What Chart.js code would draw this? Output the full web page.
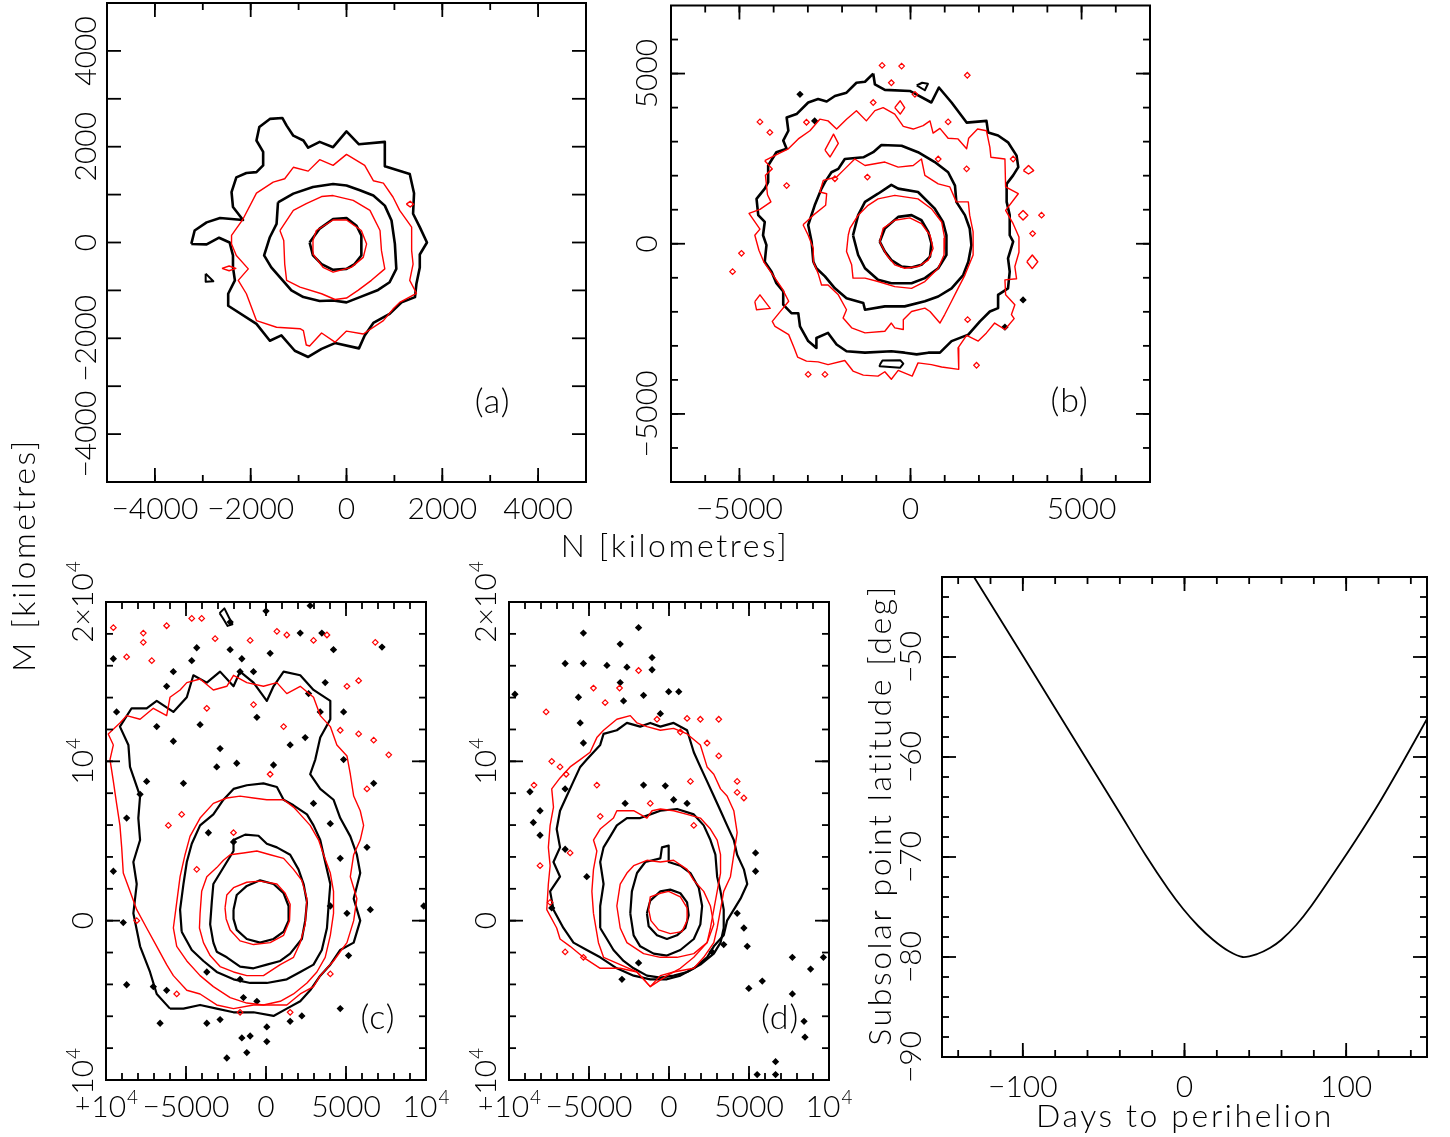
<!DOCTYPE html>
<html>
<head>
<meta charset="utf-8">
<script src="https://cdn.jsdelivr.net/npm/chart.js@4.4.0/dist/chart.umd.min.js"></script>
<style>
  body { margin: 0; background: #fff; }
  #page { position: relative; width: 1450px; height: 1137px; }
  canvas { position: absolute; left: 0; top: 0; }
</style>
</head>
<body>
<div id="page">
  <canvas id="pa" width="1450" height="1137"></canvas>
  <canvas id="pb" width="1450" height="1137"></canvas>
  <canvas id="pc" width="1450" height="1137"></canvas>
  <canvas id="pd" width="1450" height="1137"></canvas>
  <canvas id="pe" width="1450" height="1137"></canvas>
</div>
<script>
// ---- panel (a) contours, km ----
var aBlackOuter = [[-3240,-30],[-3170,250],[-2920,420],[-2640,510],[-2160,470],[-2370,740],[-2400,1050],[-2300,1360],[-2090,1450],[-1880,1470],[-1740,1610],[-1740,1890],[-1880,2130],[-1820,2410],[-1600,2580],[-1340,2600],[-1250,2440],[-1110,2230],[-900,2130],[-800,1980],[-560,2100],[-280,1990],[0,2320],[260,2050],[800,2100],[800,1590],[1320,1430],[1410,1030],[1390,600],[1530,320],[1680,0],[1530,-250],[1530,-520],[1460,-860],[1430,-1140],[1150,-1250],[900,-1490],[560,-1680],[380,-1940],[260,-2210],[-240,-2100],[-520,-2220],[-800,-2390],[-1080,-2260],[-1360,-1940],[-1600,-2050],[-1880,-1700],[-2470,-1320],[-2470,-1070],[-2330,-790],[-2370,-520],[-2370,-270],[-2440,0],[-2660,100],[-2920,-40]];
var aBlackTri = [[-2940,-650],[-2780,-810],[-2940,-820]];
var aBlackMid = [[-1430,840],[-1110,1020],[-700,1160],[-280,1220],[0,1190],[280,1090],[560,980],[800,770],[940,460],[1010,-30],[1040,-550],[900,-830],[660,-990],[280,-1140],[0,-1250],[-280,-1210],[-560,-1220],[-900,-1140],[-1150,-1000],[-1360,-760],[-1570,-520],[-1720,-270],[-1600,110],[-1460,390]];
var aBlackIn = [[-770,0],[-560,290],[-280,490],[0,510],[210,350],[310,150],[310,-270],[170,-450],[0,-550],[-280,-570],[-520,-450],[-700,-270]];
var aRedOuter = [[-2160,490],[-1880,1030],[-1530,1260],[-1290,1330],[-1110,1570],[-800,1490],[-560,1730],[-280,1610],[0,1840],[380,1610],[560,1290],[770,1240],[970,950],[1110,670],[1360,320],[1360,-170],[1390,-450],[1320,-790],[1460,-1060],[1110,-1250],[970,-1390],[770,-1630],[350,-1910],[0,-1850],[-240,-2080],[-520,-1890],[-770,-2160],[-840,-2140],[-900,-1840],[-970,-1800],[-1460,-1770],[-1880,-1630],[-2090,-1070],[-2260,-790],[-2050,-550],[-2300,-270],[-2400,-30],[-2400,150]];
var aRedSpeck1 = [[-2600,-540],[-2450,-490],[-2310,-540],[-2450,-590]];
var aRedSpeck2 = [[1250,800],[1330,860],[1400,800],[1330,740]];
var aRedMid = [[-1390,250],[-1110,670],[-840,810],[-520,960],[-280,980],[140,880],[490,670],[700,250],[730,-170],[800,-550],[520,-790],[240,-1000],[0,-1160],[-240,-1190],[-520,-1070],[-970,-930],[-1250,-790],[-1290,-450],[-1310,40]];
var aRedIn = [[-700,40],[-630,250],[-280,470],[0,470],[310,250],[420,-30],[350,-310],[100,-520],[-280,-620],[-490,-520],[-700,-240]];

// ---- panel (b) ----
var bBlackOuter = [[-1090,5000],[-1040,4680],[-750,4520],[-20,4490],[610,4150],[830,4590],[1200,4150],[1640,3560],[2220,3610],[2270,3270],[2560,3180],[2850,2980],[3100,2590],[3150,2250],[3000,2010],[2810,1760],[2810,1230],[2900,840],[2900,250],[3000,60],[2850,-430],[2900,-820],[2850,-1310],[2560,-1500],[2560,-1890],[2320,-1990],[2030,-2280],[1690,-2670],[1200,-2860],[860,-3200],[520,-3200],[180,-3250],[-170,-3200],[-560,-3160],[-1330,-3200],[-1870,-3160],[-2160,-2960],[-2410,-2620],[-2750,-2770],[-2750,-3060],[-2990,-2860],[-3230,-2430],[-3280,-2040],[-3480,-2040],[-3720,-1790],[-3720,-1400],[-3920,-1160],[-4060,-820],[-4260,-530],[-4210,-40],[-4310,250],[-4260,640],[-4450,840],[-4500,1320],[-4260,1620],[-4160,1810],[-4160,2300],[-3920,2690],[-3620,2790],[-3720,3030],[-3570,3320],[-3620,3710],[-3330,3810],[-2990,4150],[-2700,4250],[-2450,4180],[-2210,4340],[-1870,4440],[-1580,4730],[-1330,4760]];
var bBlackMid = [[-2840,-530],[-2890,60],[-2990,550],[-2800,1130],[-2600,1620],[-2500,1810],[-2310,2100],[-2110,2200],[-1920,2490],[-1380,2540],[-1090,2690],[-850,2900],[-260,2880],[220,2690],[710,2400],[1100,2100],[1300,1710],[1340,1230],[1590,840],[1730,450],[1780,-40],[1690,-530],[1540,-920],[1200,-1310],[810,-1550],[420,-1690],[-170,-1840],[-750,-1840],[-1330,-1940],[-1380,-1740],[-1870,-1600],[-2210,-1310],[-2500,-960],[-2750,-720]];
var bBlackRing2 = [[-1680,250],[-1530,840],[-1330,1230],[-950,1470],[-560,1730],[-360,1620],[220,1520],[710,1030],[950,640],[1050,250],[1050,-330],[810,-720],[420,-1010],[30,-1160],[-560,-1160],[-950,-1060],[-1330,-720],[-1530,-330]];
var bBlackIn = [[-900,60],[-750,450],[-360,790],[30,840],[320,690],[520,350],[610,10],[570,-380],[320,-620],[30,-700],[-260,-670],[-560,-480],[-750,-230]];
var bBlackTop = [[180,4650],[340,4730],[510,4700],[420,4510]];
var bBlackBottom = [[-900,-3560],[-820,-3430],[-300,-3420],[-210,-3520],[-300,-3640],[-900,-3600]];
var bBlackDots = [[-3230,4390],[-2800,3610],[3290,-1650],[2760,-2450]];
var bRedOuter = [[-4260,2440],[-3870,2640],[-3570,2790],[-3280,3080],[-2940,3320],[-2650,3660],[-2410,3610],[-2160,3370],[-1870,3660],[-1580,3910],[-1290,3610],[-1040,3910],[-800,4000],[-460,3810],[-210,3450],[80,3370],[370,3470],[570,3610],[660,3250],[860,3390],[1100,3100],[1390,3080],[1640,2790],[1700,3100],[1960,3370],[2220,3320],[2320,2830],[2350,2540],[2760,2490],[2780,1670],[3150,1470],[2780,980],[3000,590],[3170,200],[3170,-250],[3050,-670],[3100,-1030],[2760,-1060],[2780,-1500],[3050,-1790],[2950,-2080],[3030,-2200],[2760,-2520],[2460,-2330],[2220,-2620],[1980,-2860],[1640,-2690],[1390,-3060],[1410,-3690],[910,-3620],[610,-3550],[220,-3500],[50,-3890],[-360,-3720],[-560,-3980],[-750,-3760],[-950,-3890],[-1380,-3860],[-1680,-3740],[-1920,-3430],[-2410,-3550],[-2700,-3470],[-3040,-3450],[-3300,-3330],[-3400,-3060],[-3560,-2670],[-3960,-2430],[-4040,-2280],[-3820,-2010],[-3560,-1690],[-3750,-1320],[-3960,-1010],[-4280,-550],[-4430,-190],[-4550,250],[-4400,430],[-4720,890],[-4400,1010],[-4080,1230],[-4180,1440],[-4240,2010],[-4040,2200]];
var bRedMid = [[-3140,560],[-2840,840],[-2480,1130],[-2450,1470],[-2650,1520],[-2550,1860],[-2160,1960],[-1920,2200],[-1630,2490],[-1330,2300],[-750,2400],[-360,2250],[80,2300],[320,2490],[420,2010],[810,1760],[1150,1670],[1340,1230],[1690,1230],[1730,840],[1830,350],[1830,-330],[1590,-920],[1390,-1310],[1200,-1690],[1000,-2080],[860,-2330],[570,-1990],[420,-1890],[30,-1990],[-210,-2230],[-210,-2520],[-460,-2470],[-560,-2330],[-750,-2570],[-1330,-2620],[-1720,-2470],[-1970,-2180],[-1870,-1940],[-2110,-1500],[-2410,-1210],[-2600,-1210],[-2700,-870],[-2840,-530],[-2840,-140],[-2990,250]];
var bRedRing2 = [[-1820,250],[-1770,450],[-1530,840],[-1240,1130],[-950,1320],[-460,1420],[220,1320],[610,1030],[910,640],[1000,160],[980,-330],[810,-720],[420,-1110],[30,-1310],[-460,-1260],[-950,-1110],[-1330,-1010],[-1680,-1010],[-1720,-620],[-1870,-230]];
var bRedIn = [[-900,60],[-800,450],[-460,690],[-20,760],[320,590],[570,250],[660,-140],[520,-480],[220,-670],[-170,-720],[-460,-620],[-700,-330]];
var bRedLoop1 = [[-2500,2750],[-2250,3220],[-2110,2950],[-2350,2550]];
var bRedLoop2 = [[-460,4000],[-300,4200],[-170,4000],[-300,3810]];
var bRedLoop3 = [[-4550,-1700],[-4400,-1500],[-4100,-1900],[-4500,-1940]];
var bRedLoop4 = [[3400,-530],[3560,-330],[3720,-530],[3560,-730]];
var bRedLoop5 = [[3300,2150],[3450,2300],[3600,2150],[3450,2050]];
var bRedLoop6 = [[3150,840],[3290,980],[3430,840],[3290,700]];
var bRedDots = [[-4400,3580],[-4110,3270],[-4940,-280],[-5200,-820],[-3620,1710],[-3040,3570],[-1090,4150],[-560,4730],[-260,5220],[-830,5240],[130,4390],[1100,3580],[1660,4950],[810,2490],[1640,2200],[-1260,1960],[-2210,1910],[3830,840],[3570,300],[1930,-3570],[-2990,-3840],[-2500,-3840],[1670,-2230],[3000,2490]];

// ---- panel (c) ----
var cBlackIn = [[-2030,690],[-1830,1610],[-1200,2180],[-370,2530],[470,2300],[1100,1720],[1410,920],[1410,0],[1100,-690],[470,-1150],[-370,-1380],[-1200,-1150],[-1830,-580],[-2030,110]];
var cBlackRing2 = [[-3290,-1380],[-3490,-230],[-3390,1150],[-3290,2300],[-2870,2990],[-2450,3680],[-2030,4370],[-2030,5060],[-1300,5400],[-470,5330],[50,4830],[680,4600],[1510,4140],[2030,3220],[2350,2300],[2560,1150],[2450,0],[2240,-1150],[1510,-2070],[890,-2530],[50,-2760],[-780,-2990],[-1620,-2880],[-2450,-2300],[-3080,-1950]];
var cBlackRing3 = [[-5270,-690],[-5370,690],[-5160,2300],[-4950,3680],[-4640,4830],[-4120,5980],[-3290,6670],[-2660,7590],[-2030,8270],[-1200,8500],[-160,8620],[680,8390],[1100,7590],[1720,7240],[2560,6670],[2970,5980],[3390,5060],[3700,3680],[4020,2300],[3910,920],[3810,-460],[3490,-1840],[2970,-2760],[2140,-3220],[1300,-3680],[50,-3910],[-990,-3910],[-2030,-3680],[-3080,-3220],[-3910,-2530],[-4640,-1840]];
var cBlackOuter = [[-6000,-5520],[-6830,-4600],[-7250,-3220],[-7870,-1610],[-8290,460],[-8080,2300],[-8290,3680],[-7870,5060],[-7980,6440],[-7870,7820],[-8500,9650],[-8600,11030],[-9130,12180],[-8400,13330],[-7460,13330],[-6830,13790],[-5790,13100],[-4950,14020],[-4540,15400],[-3700,14940],[-2870,15630],[-2030,14710],[-1620,15630],[-780,14940],[50,13790],[470,14710],[1100,15630],[2140,15400],[2970,14480],[4020,13790],[4020,12640],[3390,11490],[3080,10110],[2760,9190],[3390,8270],[4220,7590],[4640,6440],[5270,5290],[5680,4140],[5890,2990],[5480,1380],[5890,0],[5480,-1380],[4640,-1840],[4020,-2760],[3390,-3450],[2760,-4370],[2140,-5060],[1300,-5520],[470,-5980],[-780,-5750],[-2030,-5750],[-3080,-5520],[-4120,-5290],[-5160,-5520]];
var cBlackLoop = [[-2900,19300],[-2600,19600],[-2300,19000],[-2100,18600],[-2400,18500],[-2700,19000]];
var cRedIn = [[-2560,800],[-2450,1610],[-2030,2070],[-1200,2410],[-370,2480],[680,2300],[1200,1720],[1510,1030],[1470,0],[1100,-920],[260,-1380],[-780,-1500],[-1620,-1270],[-2240,-580],[-2490,110]];
var cRedRing2 = [[-4120,460],[-4020,1840],[-3700,2760],[-3080,3330],[-2660,3790],[-2240,4140],[-1410,4250],[-570,4370],[260,4140],[1100,3910],[1720,3220],[2240,2530],[2560,1380],[2450,-230],[2140,-1380],[1720,-2300],[890,-2760],[-160,-3450],[-1200,-3450],[-2030,-3220],[-2870,-2880],[-3490,-2190],[-3910,-1380],[-4160,-460]];
var cRedRing3 = [[-5790,-460],[-5580,1150],[-5370,2760],[-5060,4140],[-4750,5290],[-4120,6440],[-3290,7360],[-2450,7700],[-1620,7820],[-780,7700],[50,7590],[1100,7590],[1720,7130],[2140,6670],[2760,5980],[3290,5060],[3600,4140],[4020,2990],[4220,1840],[4220,460],[4020,-920],[3700,-2300],[3180,-3220],[2560,-3910],[1720,-4600],[890,-5060],[-160,-5290],[-1200,-5170],[-2240,-4830],[-3290,-4140],[-4120,-3450],[-4950,-2530],[-5580,-1610]];
var cRedOuter = [[-9540,11030],[-9860,11720],[-9130,12410],[-8710,12870],[-7870,12640],[-7040,13330],[-6210,12870],[-6000,14020],[-5370,14480],[-4950,14940],[-4120,15170],[-3290,14480],[-2450,14710],[-2030,15400],[-1200,14940],[-160,14710],[680,14940],[1300,14250],[2140,14710],[2970,14020],[3390,12870],[4020,12180],[4430,11030],[5060,10340],[5270,9190],[5480,7820],[5890,6900],[6100,5980],[5890,5060],[5480,4140],[5270,2760],[5680,1380],[5480,0],[5060,-1380],[4220,-2530],[3390,-3450],[2970,-4140],[2140,-4600],[1300,-5290],[50,-5290],[-780,-5290],[-2030,-5520],[-3080,-5290],[-4120,-4600],[-4950,-4370],[-5790,-3450],[-6210,-2760],[-6830,-1610],[-7460,-460],[-8080,690],[-8500,1840],[-8920,2990],[-9020,4600],[-9130,5980],[-9340,7360],[-9540,8740],[-9750,10110]];
var cBlackDots = [[-2240,18740],[0,19430],[2760,19770],[2140,18050],[3490,18050],[-4330,17130],[-2240,17010],[-1510,16440],[260,16780],[-4640,16320],[-5790,15630],[-6210,14710],[-9540,16440],[-1620,15630],[-780,15630],[4220,17010],[7250,17170],[3700,14940],[2660,14250],[3390,13100],[4850,13100],[-9340,13100],[-6830,12180],[-5790,11260],[-4120,12300],[-2870,10800],[-570,12760],[1510,11030],[2450,11490],[4850,10110],[470,9770],[-1830,9880],[-5160,8620],[-7460,8740],[-7870,7930],[-8710,6440],[-3080,9650],[2970,7360],[4020,6090],[-3600,5520],[-2030,4940],[6730,8620],[6310,4600],[6520,690],[4640,3910],[4020,920],[5060,460],[-9540,3100],[-8920,-120],[-8710,-4020],[-7040,-4140],[-6210,-4370],[-3700,-3220],[-1620,-3680],[-1410,-4830],[-570,-5060],[2240,-5980],[4640,-5520],[-6620,-6440],[-3700,-6440],[-2870,-6210],[50,-6670],[-1510,-7360],[-990,-7240],[50,-7590],[1510,-6320],[-2450,-8620],[-1200,-8280],[5160,-2190],[9860,920]];
var cRedDots = [[-9540,18390],[-7670,18050],[-7670,17470],[-6210,18510],[-4020,18970],[-4640,18970],[-3180,17700],[-990,17590],[680,18160],[1300,17930],[2970,17590],[3810,17930],[5060,14710],[5790,15060],[6830,17470],[4640,11950],[5790,11720],[6730,11330],[7670,10410],[6310,8270],[-7140,16320],[-8710,16550],[-5270,6670],[-6100,5980],[-4330,3220],[-8080,0],[4020,-3340],[-5580,-4600],[-1620,-5750],[1510,-5750],[260,9190],[-2030,5520],[-780,13560],[-3700,13330],[1100,12180]];

// ---- panel (d) ----
var dBlackIn = [[-1380,460],[-1170,1260],[-540,1840],[80,1950],[710,1720],[1130,1150],[1230,340],[1020,-460],[500,-920],[-130,-1150],[-750,-920],[-1270,-350]];
var dBlackRing2 = [[-2420,460],[-2320,1840],[-2000,2990],[-1480,3680],[-540,3910],[-440,4600],[-20,4710],[-20,3680],[710,3450],[1340,2990],[1860,2070],[2070,920],[1960,-230],[1550,-1150],[710,-1840],[-130,-2190],[-960,-2070],[-1800,-1610],[-2210,-920]];
var dBlackRing3 = [[-4300,-460],[-4300,920],[-4090,2300],[-4300,3680],[-4090,4600],[-3670,5290],[-3260,5980],[-2630,6440],[-1800,6440],[-1170,6670],[-540,6900],[500,7010],[1550,6670],[2170,5980],[2590,5060],[2900,4140],[3010,2760],[3220,1840],[3420,690],[3420,-460],[3220,-1380],[2800,-2070],[1960,-2760],[1130,-3220],[290,-3450],[-540,-3570],[-1380,-3450],[-2210,-2990],[-2840,-2530],[-3470,-1840],[-3880,-1150]];
var dBlackOuter = [[-7220,690],[-7430,1840],[-6810,2760],[-7220,3680],[-6810,4600],[-7020,5750],[-6810,6900],[-6390,7820],[-5970,8740],[-5550,9650],[-5140,10110],[-4300,11030],[-4090,11720],[-3260,11950],[-2630,12410],[-1800,12180],[-1170,12410],[-540,12180],[290,12410],[1130,11950],[1550,10570],[1960,9650],[2380,8740],[2800,7820],[3220,6900],[3630,5980],[4050,5060],[4260,4140],[4680,3220],[4890,2300],[4470,1380],[4050,690],[3630,0],[3420,-920],[2800,-1610],[2380,-2300],[1550,-2990],[710,-3450],[-130,-3680],[-1170,-3680],[-2210,-3450],[-3260,-2990],[-4300,-2300],[-5140,-1840],[-5970,-1380],[-6600,-460]];
var dRedIn = [[-1270,690],[-1170,1490],[-540,1720],[-20,1840],[710,1490],[1130,800],[1130,0],[810,-690],[80,-810],[-650,-580],[-1130,0]];
var dRedRing2 = [[-3260,920],[-3050,2300],[-2630,2990],[-2210,3450],[-1380,3790],[-540,3680],[290,3790],[1130,3220],[1550,2530],[2170,1840],[2590,920],[2800,-230],[2380,-1380],[1550,-2070],[500,-2300],[-540,-2300],[-1590,-2070],[-2630,-1380],[-3050,-460]];
var dRedRing3 = [[-4720,460],[-4820,1840],[-4720,3220],[-4510,4370],[-4720,5060],[-4300,5750],[-3470,6440],[-3260,6900],[-2210,6900],[-1380,6440],[-1060,6900],[-540,7010],[290,6900],[1130,6670],[1960,6440],[2590,5750],[3010,5060],[3220,4140],[3220,2990],[3010,1840],[2800,690],[2590,-460],[2380,-1380],[1550,-2300],[710,-2990],[-130,-3450],[-1170,-4140],[-2000,-3220],[-3050,-2760],[-4090,-2300],[-4410,-1380]];
var dRedOuter = [[-7640,690],[-7540,2300],[-7430,3450],[-7540,4600],[-7430,5980],[-7220,7130],[-7330,8270],[-6810,8960],[-6180,9650],[-5550,10110],[-4930,10570],[-4510,11490],[-4090,11950],[-3260,12640],[-2420,12870],[-2000,12410],[-1380,12180],[-540,11950],[290,12070],[1130,11720],[1960,11030],[2380,9650],[2800,9190],[3220,8270],[3630,7820],[4050,6900],[4260,5520],[4050,4140],[3840,2760],[3420,1840],[3220,690],[3010,-460],[2800,-1380],[2170,-2300],[1550,-2990],[290,-3220],[-540,-3450],[-1170,-4140],[-2000,-3220],[-3050,-2990],[-4300,-2990],[-5350,-2300],[-6180,-1610],[-6810,-1150],[-7020,-460]];
var dBlackDots = [[-1900,18390],[-5350,18050],[-3050,17360],[-5350,16140],[-3880,16020],[-2630,15910],[-1060,16510],[-1060,15750],[-6490,16140],[-9630,14210],[-3050,14940],[-5660,14020],[-2840,13790],[-1590,14140],[-20,14370],[610,14370],[-5550,12410],[-5350,11150],[-540,12990],[-8690,8090],[-8060,6900],[-8480,6160],[-8060,5360],[-6490,8270],[-2740,7360],[-1590,8510],[-230,8460],[290,7590],[1130,7360],[-6490,4480],[-5140,2760],[5410,4250],[5410,3100],[4260,460],[4680,-460],[4890,-1610],[3420,-1500],[2690,-1960],[7710,-2300],[9650,-2300],[8850,-3040],[5830,-3790],[4990,-4250],[7710,-4600],[8440,-6320],[8500,-7310],[5510,-9660],[6660,-8850],[6660,-9660],[-7330,800],[-2940,-3680],[-1900,-2650]];
var dRedDots = [[-1900,15700],[-4720,14600],[-3090,14600],[-3990,13680],[-7680,13100],[-750,12640],[1130,12690],[1960,12640],[3110,12640],[3110,10340],[2380,11150],[710,11840],[-7330,10000],[-6810,9650],[-6430,9190],[-8440,8510],[-4510,8510],[-1170,7360],[4260,8050],[4680,7700],[4260,8740],[1550,5980],[-8060,3450],[-6180,4250],[-7430,1150],[-5350,-2300],[-6490,-1960],[-4300,6550],[1340,8740]];

// ---- right panel: subsolar latitude ----
var days = [-130.2, -99.9, -80.1, -61.4, -40.4, -24.1, -10.1, -0.8, 8.5, 17.8, 27.2, 36.0, 45.0, 52.8, 59.8, 69.1, 78.4, 92.4, 106.4, 120.4, 134.4, 150];
var latitude = [-42.0, -49.9, -55.1, -60.0, -65.5, -69.8, -73.2, -75.2, -76.9, -78.3, -79.4, -80.0, -79.7, -79.1, -78.3, -76.8, -74.9, -71.6, -68.2, -64.6, -60.7, -56.2];

// ---- tick labels ----
var abLabelsA = [[-4000,'−4000'],[-2000,'−2000'],[0,'0'],[2000,'2000'],[4000,'4000']];
var abLabelsB = [[-5000,'−5000'],[0,'0'],[5000,'5000']];
var cdLabelsX = [[-10000,'−10^4'],[-5000,'−5000'],[0,'0'],[5000,'5000'],[10000,'10^4']];
var cdLabelsY = [[-10000,'−10^4'],[0,'0'],[10000,'10^4'],[20000,'2×10^4']];
var eLabelsX = [[-100,'−100'],[0,'0'],[100,'100']];
var eLabelsY = [[-90,'−90'],[-80,'−80'],[-70,'−70'],[-60,'−60'],[-50,'−50']];

var FONT = 'Lato, "DejaVu Sans", sans-serif';
var FS = 30;

function range(a, b, s) { var r = []; for (var v = a; v <= b + 1e-9; v += s) r.push(v); return r; }
function pts(arr) { return arr.map(function (p) { return { x: p[0], y: p[1] }; }); }
function ring(arr) { return pts(arr.concat([arr[0]])); }

function contour(arr, color, w) {
  return { data: ring(arr), showLine: true, borderColor: color, borderWidth: w,
           pointRadius: 0, fill: false, tension: 0, borderJoinStyle: 'round' };
}
function specks(arr, color, filled) {
  return { data: pts(arr), showLine: false, pointStyle: 'rectRot',
           pointRadius: filled ? 2.6 : 2.8, pointBorderWidth: filled ? 1.5 : 1.2,
           pointBorderColor: color, pointBackgroundColor: filled ? color : 'rgba(0,0,0,0)' };
}

function richText(ctx, str, x, y, size, spacing) {
  var parts = str.split('^');
  var base = parts[0], sup = parts[1] || '';
  ctx.letterSpacing = (spacing || 0) + 'px';
  ctx.font = '300 ' + size + 'px ' + FONT;
  var w1 = ctx.measureText(base).width;
  var ss = Math.round(size * 0.62);
  ctx.font = '300 ' + ss + 'px ' + FONT;
  var w2 = sup ? ctx.measureText(sup).width + 1 : 0;
  var x0 = x - (w1 + w2) / 2;
  ctx.textAlign = 'left';
  ctx.textBaseline = 'alphabetic';
  ctx.font = '300 ' + size + 'px ' + FONT;
  ctx.fillText(base, x0, y);
  if (sup) {
    ctx.font = '300 ' + ss + 'px ' + FONT;
    ctx.fillText(sup, x0 + w1 + 1, y - size * 0.45);
  }
  ctx.letterSpacing = '0px';
}

var framePlugin = {
  id: 'frame',
  afterDraw: function (chart, args, o) {
    var ctx = chart.ctx, a = chart.chartArea;
    var xs = chart.scales.x, ys = chart.scales.y;
    ctx.save();
    ctx.strokeStyle = '#000';
    ctx.fillStyle = '#000';
    ctx.lineWidth = 1.8;
    function seg(x1, y1, x2, y2) { ctx.beginPath(); ctx.moveTo(x1, y1); ctx.lineTo(x2, y2); ctx.stroke(); }
    function xt(vals, len) {
      vals.forEach(function (v) {
        var p = xs.getPixelForValue(v);
        if (p <= a.left + 1 || p >= a.right - 1) return;
        seg(p, a.bottom, p, a.bottom - len); seg(p, a.top, p, a.top + len);
      });
    }
    function yt(vals, len) {
      vals.forEach(function (v) {
        var p = ys.getPixelForValue(v);
        if (p <= a.top + 1 || p >= a.bottom - 1) return;
        seg(a.left, p, a.left + len, p); seg(a.right, p, a.right - len, p);
      });
    }
    xt(o.xMinor, 7); xt(o.xMajor, 14);
    yt(o.yMinor, 7); yt(o.yMajor, 14);
    ctx.lineWidth = 2;
    ctx.strokeRect(a.left, a.top, a.right - a.left, a.bottom - a.top);

    o.xLabels.forEach(function (l) {
      richText(ctx, l[1], xs.getPixelForValue(l[0]), a.bottom + o.xGap, FS);
    });
    o.yLabels.forEach(function (l) {
      ctx.save();
      ctx.translate(a.left - o.yGap, ys.getPixelForValue(l[0]));
      ctx.rotate(-Math.PI / 2);
      richText(ctx, l[1], 0, 0, FS);
      ctx.restore();
    });
    if (o.tag) {
      richText(ctx, o.tag[2], xs.getPixelForValue(o.tag[0]), ys.getPixelForValue(o.tag[1]), 34, 1);
    }
    (o.titles || []).forEach(function (t) {
      ctx.save();
      ctx.translate(t.x, t.y);
      if (t.rot) ctx.rotate(-Math.PI / 2);
      richText(ctx, t.text, 0, 0, 32, 2.6);
      ctx.restore();
    });
    ctx.restore();
  }
};

function panel(id, box, xr, yr, datasets, frame) {
  return new Chart(document.getElementById(id), {
    type: 'scatter',
    data: { datasets: datasets },
    options: {
      responsive: false,
      animation: false,
      events: [],
      layout: { padding: { left: box[0], top: box[1], right: 1450 - box[2], bottom: 1137 - box[3] } },
      scales: {
        x: { type: 'linear', min: xr[0], max: xr[1], display: false },
        y: { type: 'linear', min: yr[0], max: yr[1], display: false }
      },
      plugins: { legend: { display: false }, tooltip: { enabled: false }, frame: frame }
    },
    plugins: [framePlugin]
  });
}

var BW = 2.6, RW = 1.4, RED = '#ff0000', BLK = '#000000';

panel('pa', [107, 3, 586, 482], [-5000, 5000], [-5000, 5000], [
  contour(aRedOuter, RED, RW), contour(aRedMid, RED, RW), contour(aRedIn, RED, RW),
  contour(aRedSpeck1, RED, RW), contour(aRedSpeck2, RED, RW),
  contour(aBlackOuter, BLK, BW), contour(aBlackMid, BLK, BW), contour(aBlackIn, BLK, BW),
  contour(aBlackTri, BLK, 2)
], {
  xMinor: range(-4000, 4000, 1000), xMajor: range(-4000, 4000, 2000),
  yMinor: [], yMajor: range(-4000, 4000, 1000),
  xLabels: abLabelsA, yLabels: abLabelsA, xGap: 37, yGap: 11,
  tag: [3050, -3550, '(a)'],
  titles: [
    { text: 'N [kilometres]', x: 675, y: 557 },
    { text: 'M [kilometres]', x: 35, y: 555, rot: true }
  ]
});

panel('pb', [671, 3, 1150, 482], [-7000, 7000], [-7000, 7000], [
  contour(bRedOuter, RED, RW), contour(bRedMid, RED, RW), contour(bRedRing2, RED, RW), contour(bRedIn, RED, RW),
  contour(bRedLoop1, RED, RW), contour(bRedLoop2, RED, RW), contour(bRedLoop3, RED, RW),
  contour(bRedLoop4, RED, RW), contour(bRedLoop5, RED, RW), contour(bRedLoop6, RED, RW),
  specks(bRedDots, RED, false),
  contour(bBlackOuter, BLK, BW), contour(bBlackMid, BLK, BW), contour(bBlackRing2, BLK, BW), contour(bBlackIn, BLK, BW),
  contour(bBlackTop, BLK, 2), contour(bBlackBottom, BLK, 2), specks(bBlackDots, BLK, true)
], {
  xMinor: range(-6000, 6000, 1000), xMajor: [-5000, 0, 5000],
  yMinor: range(-6000, 6000, 1000), yMajor: [-5000, 0, 5000],
  xLabels: abLabelsB, yLabels: abLabelsB, xGap: 37, yGap: 14,
  tag: [4650, -4950, '(b)']
});

panel('pc', [106, 602, 426, 1080], [-10000, 10000], [-10000, 20000], [
  contour(cRedOuter, RED, RW), contour(cRedRing3, RED, RW), contour(cRedRing2, RED, RW), contour(cRedIn, RED, RW),
  specks(cRedDots, RED, false),
  contour(cBlackOuter, BLK, 2.2), contour(cBlackRing3, BLK, 2.2), contour(cBlackRing2, BLK, 2.2), contour(cBlackIn, BLK, 2.2),
  contour(cBlackLoop, BLK, 2), specks(cBlackDots, BLK, true)
], {
  xMinor: range(-9000, 9000, 1000), xMajor: [-5000, 0, 5000],
  yMinor: range(-8000, 18000, 2000), yMajor: [0, 10000],
  xLabels: cdLabelsX, yLabels: cdLabelsY, xGap: 37, yGap: 13,
  tag: [7000, -6800, '(c)']
});

panel('pd', [509, 602, 829, 1080], [-10000, 10000], [-10000, 20000], [
  contour(dRedOuter, RED, RW), contour(dRedRing3, RED, RW), contour(dRedRing2, RED, RW), contour(dRedIn, RED, RW),
  specks(dRedDots, RED, false),
  contour(dBlackOuter, BLK, 2.2), contour(dBlackRing3, BLK, 2.2), contour(dBlackRing2, BLK, 2.2), contour(dBlackIn, BLK, 2.2),
  specks(dBlackDots, BLK, true)
], {
  xMinor: range(-9000, 9000, 1000), xMajor: [-5000, 0, 5000],
  yMinor: range(-8000, 18000, 2000), yMajor: [0, 10000],
  xLabels: cdLabelsX, yLabels: cdLabelsY, xGap: 37, yGap: 13,
  tag: [6950, -6800, '(d)']
});

panel('pe', [942, 577, 1427, 1057], [-150, 150], [-90, -42], [
  { data: days.map(function (d, i) { return { x: d, y: latitude[i] }; }), showLine: true,
    borderColor: BLK, borderWidth: 1.8, pointRadius: 0, fill: false, tension: 0.3 }
], {
  xMinor: range(-140, 140, 20), xMajor: [-100, 0, 100],
  yMinor: range(-88, -42, 2), yMajor: [-80, -70, -60, -50],
  xLabels: eLabelsX, yLabels: eLabelsY, xGap: 40, yGap: 21,
  titles: [
    { text: 'Days to perihelion', x: 1185, y: 1127 },
    { text: 'Subsolar point latitude [deg]', x: 891, y: 815, rot: true }
  ]
});
</script>
</body>
</html>
